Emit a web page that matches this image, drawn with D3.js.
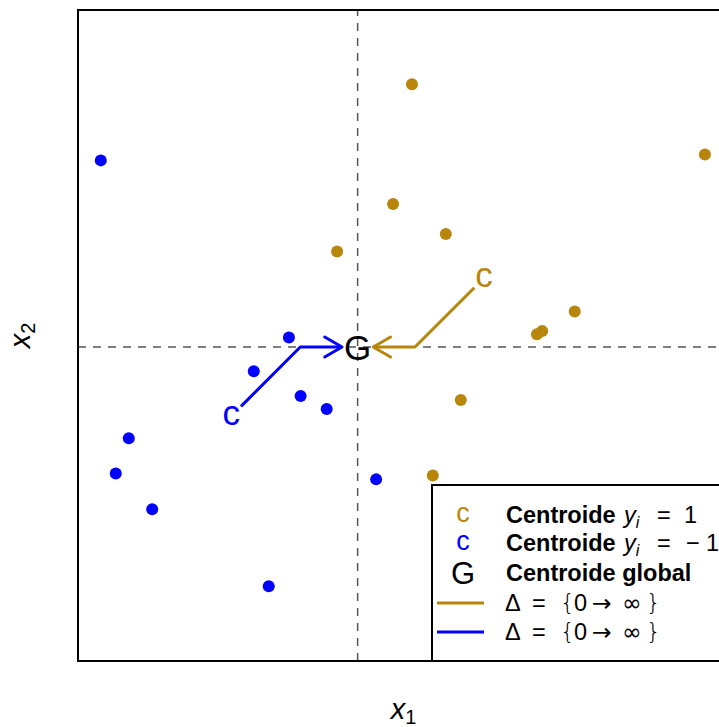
<!DOCTYPE html>
<html>
<head>
<meta charset="utf-8">
<script src="https://cdn.jsdelivr.net/npm/d3@7"></script>
<style>
  body { margin: 0; background: #fff; }
  text { font-family: "Liberation Sans", Arial, Helvetica, sans-serif; }
</style>
</head>
<body>
<svg width="719" height="727"></svg>
<script>
// class y = 1 (gold) and y = -1 (blue) points
const posX = [0.83, 5.33, 0.54, 1.35, -0.32, 2.75, 2.83, 3.33, 1.58, 1.15];
const posY = [4.04, 2.96, 2.20, 1.74, 1.47, 0.20, 0.25, 0.55, -0.81, -1.97];
const negX = [-3.95, -1.06, -1.60, -0.88, -0.48, -3.52, -3.72, -3.16, 0.28, -1.37];
const negY = [2.87, 0.15, -0.37, -0.75, -0.95, -1.40, -1.94, -2.49, -2.03, -3.67];

const xDomain = [-4.30, 5.70];
const yDomain = [-4.82, 5.18];

const gold = "#B8860B";
const blue = "#0000FF";

const margin = { top: 10, left: 78 };
const size = 651;

const svg = d3.select("svg");

const x = d3.scaleLinear().domain(xDomain).range([margin.left, margin.left + size]);
const y = d3.scaleLinear().domain(yDomain).range([margin.top + size, margin.top]);

const pos = posX.map((d, i) => ({ x: d, y: posY[i] }));
const neg = negX.map((d, i) => ({ x: d, y: negY[i] }));
const all = pos.concat(neg);

const cPos = { x: d3.mean(pos, d => d.x), y: d3.mean(pos, d => d.y) };
const cNeg = { x: d3.mean(neg, d => d.x), y: d3.mean(neg, d => d.y) };
const cAll = { x: d3.mean(all, d => d.x), y: d3.mean(all, d => d.y) };

// reference lines through the global centroid
svg.append("line")
    .attr("x1", x(cAll.x)).attr("x2", x(cAll.x))
    .attr("y1", y(yDomain[0])).attr("y2", y(yDomain[1]))
    .attr("stroke", "#555").attr("stroke-width", 1.5)
    .attr("stroke-dasharray", "8 7");

svg.append("line")
    .attr("x1", x(xDomain[0])).attr("x2", x(xDomain[1]))
    .attr("y1", y(cAll.y)).attr("y2", y(cAll.y))
    .attr("stroke", "#555").attr("stroke-width", 1.5)
    .attr("stroke-dasharray", "8 7");

// points
svg.append("g").selectAll("circle")
    .data(pos).join("circle")
    .attr("cx", d => x(d.x)).attr("cy", d => y(d.y))
    .attr("r", 6).attr("fill", gold);

svg.append("g").selectAll("circle")
    .data(neg).join("circle")
    .attr("cx", d => x(d.x)).attr("cy", d => y(d.y))
    .attr("r", 6).attr("fill", blue);

// paths from class centroids to global centroid
function drawArrow(c, color) {
    const sx = c.x < cAll.x ? 1 : -1;
    const sy = c.y < cAll.y ? 1 : -1;
    const off = 0.15;
    const start = { x: c.x + sx * off, y: c.y + sy * off };
    const elbow = { x: c.x + sx * Math.abs(c.y - cAll.y), y: cAll.y };
    const end = { x: cAll.x - sx * 0.24, y: cAll.y };

    svg.append("path")
        .attr("d", d3.line().x(d => x(d.x)).y(d => y(d.y))([start, elbow, end]))
        .attr("fill", "none").attr("stroke", color)
        .attr("stroke-width", 3).attr("stroke-linejoin", "round");

    const tx = x(end.x), ty = y(end.y);
    const len = 20, ang = Math.PI / 6;
    const back = -sx;
    const head = [
        [tx + back * len * Math.cos(ang), ty - len * Math.sin(ang)],
        [tx, ty],
        [tx + back * len * Math.cos(ang), ty + len * Math.sin(ang)]
    ];
    svg.append("path")
        .attr("d", d3.line()(head))
        .attr("fill", "none").attr("stroke", color)
        .attr("stroke-width", 3).attr("stroke-linecap", "round")
        .attr("stroke-linejoin", "round");
}
drawArrow(cPos, gold);
drawArrow(cNeg, blue);

// centroid letters
const letterSize = 35;
svg.append("text").attr("x", x(cPos.x)).attr("y", y(cPos.y) + 9)
    .attr("text-anchor", "middle").style("font-size", letterSize + "px")
    .attr("fill", gold).text("c");
svg.append("text").attr("x", x(cNeg.x)).attr("y", y(cNeg.y) + 9)
    .attr("text-anchor", "middle").style("font-size", letterSize + "px")
    .attr("fill", blue).text("c");
svg.append("text").attr("x", x(cAll.x)).attr("y", y(cAll.y) + 13)
    .attr("text-anchor", "middle").style("font-size", letterSize + "px")
    .attr("fill", "#000").text("G");

// frame
svg.append("rect")
    .attr("x", margin.left).attr("y", margin.top)
    .attr("width", size).attr("height", size)
    .attr("fill", "none").attr("stroke", "#000").attr("stroke-width", 2);

// legend
const legend = svg.append("g").attr("transform", "translate(432,485)");
legend.append("rect")
    .attr("width", 320).attr("height", 176)
    .attr("fill", "#fff").attr("stroke", "#000").attr("stroke-width", 2);

const rowY = [30, 58, 88, 118, 147];
const fs = 23.5;

function centroidRow(ry, color, sign) {
    legend.append("text").attr("x", 31).attr("y", ry + 7)
        .attr("text-anchor", "middle").style("font-size", "27px")
        .attr("fill", color).text("c");
    const t = legend.append("text").attr("y", ry + 8)
        .style("font-size", fs + "px").attr("fill", "#000");
    t.append("tspan").attr("x", 74).style("font-weight", "bold").text("Centroide");
    t.append("tspan").attr("x", 192).style("font-style", "italic").text("y");
    t.append("tspan").style("font-style", "italic").style("font-size", "16px")
        .attr("dy", 5).text("i");
    t.append("tspan").attr("x", 225).attr("dy", -5).text("=");
    if (sign) t.append("tspan").attr("x", 254).text("\u2212");
    t.append("tspan").attr("x", sign ? 274 : 252).text("1");
}
centroidRow(rowY[0], gold, false);
centroidRow(rowY[1], blue, true);

legend.append("text").attr("x", 31).attr("y", rowY[2] + 11)
    .attr("text-anchor", "middle").style("font-size", "31px")
    .attr("fill", "#000").text("G");
legend.append("text").attr("x", 74).attr("y", rowY[2] + 8)
    .style("font-size", fs + "px").style("font-weight", "bold")
    .text("Centroide global");

[[rowY[3], gold], [rowY[4], blue]].forEach(([ry, color]) => {
    legend.append("line")
        .attr("x1", 5).attr("x2", 52).attr("y1", ry).attr("y2", ry)
        .attr("stroke", color).attr("stroke-width", 3);
    const t = legend.append("text").attr("y", ry + 8)
        .style("font-size", fs + "px");
    t.append("tspan").attr("x", 73).text("\u0394");
    t.append("tspan").attr("x", 100).text("=");
    t.append("tspan").attr("x", 128).style("font-family", "DejaVu Sans")
        .style("font-weight", "200").text("{");
    t.append("tspan").attr("x", 142).text("0");
    t.append("tspan").attr("x", 160).style("font-family", "DejaVu Sans").text("\u2192");
    t.append("tspan").attr("x", 190).style("font-family", "DejaVu Sans").text("\u221E");
    t.append("tspan").attr("x", 214).style("font-family", "DejaVu Sans")
        .style("font-weight", "200").text("}");
});

// axis labels
const xl = svg.append("text").attr("x", margin.left + size / 2).attr("y", 719)
    .attr("text-anchor", "middle").style("font-size", "29px");
xl.append("tspan").style("font-style", "italic").text("x");
xl.append("tspan").style("font-size", "20px").attr("dy", 5).text("1");

const yl = svg.append("text")
    .attr("transform", `translate(30,${margin.top + size / 2}) rotate(-90)`)
    .attr("text-anchor", "middle").style("font-size", "29px");
yl.append("tspan").style("font-style", "italic").text("x");
yl.append("tspan").style("font-size", "20px").attr("dy", 5).text("2");
</script>
</body>
</html>
